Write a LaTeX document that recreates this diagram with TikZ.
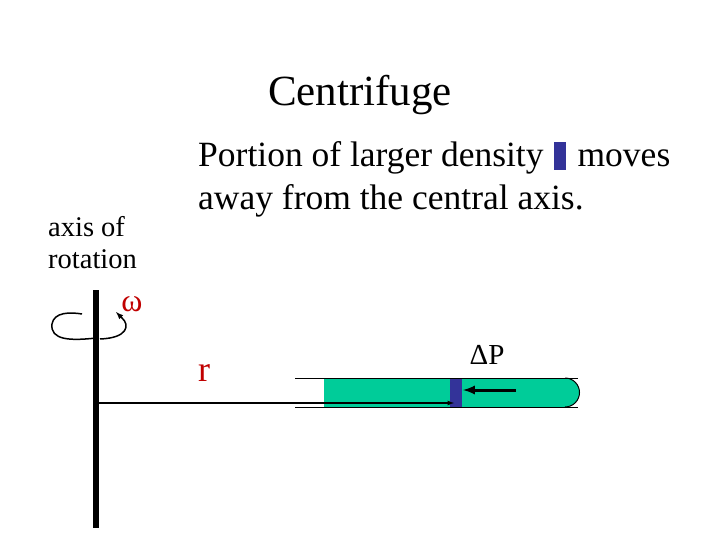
\documentclass[tikz,border=0pt]{standalone}
\usepackage{fontspec}
\setmainfont{Liberation Serif}
\begin{document}
\begin{tikzpicture}[x=1pt,y=-1pt,
 lbl/.style={inner sep=0pt,anchor=west}]
\definecolor{tg}{HTML}{00CC99}
\definecolor{db}{HTML}{333399}
\definecolor{rd}{HTML}{C00000}
\useasboundingbox (0,0) rectangle (720,540);
\node (title) at (360,95) {\fontsize{43}{48}\selectfont Centrifuge};
\node[lbl] (t1) at (198,158) {\fontsize{35.5}{40}\selectfont Portion of larger density\hspace{34pt}moves};
\node[lbl] (t2) at (198,201) {\fontsize{35.5}{40}\selectfont away from the central axis.};
\node[fill=db,minimum width=12pt,minimum height=28pt,inner sep=0pt] (sw) at (559.5,156) {};
\node[lbl] (ax1) at (48,227) {\fontsize{28.5}{30}\selectfont axis of};
\node[lbl] (ax2) at (48,259) {\fontsize{28.5}{30}\selectfont rotation};
\draw[line width=6pt] (96,290) -- (96,528);
\node[text=rd,inner sep=0pt] (om) at (132,304) {\fontsize{32}{34}\selectfont ω};
\draw[line width=1.5pt,-latex] (96,338) .. controls (70,341) and (50,340) .. (52,324) .. controls (54,312) and (70,312) .. (82,314)
  (100,339) .. controls (128,338) and (130,325) .. (122,318) -- (116,312);
\node[text=rd,inner sep=0pt] (r) at (204,373) {\fontsize{36}{40}\selectfont r};
\node[inner sep=0pt] (dp) at (487,355) {\fontsize{29}{32}\selectfont ΔP};
\fill[tg] (324,378) rectangle (565,407);
\fill[tg] (565,378) arc[start angle=-90,end angle=90,radius=14.5];
\draw[line width=1pt] (565,378) arc[start angle=-90,end angle=90,radius=14.5];
\fill[db] (450,378) rectangle (462,407);
\draw[line width=0.8pt] (295,378) -- (578,378);
\draw[line width=0.8pt] (295,407) -- (578,407);
\coordinate (rs) at (96,403);
\coordinate (re) at (454,403);
\draw[line width=1.2pt,-latex] (rs) -- (re);
\coordinate (fs) at (516,390);
\coordinate (fe) at (463,390);
\draw[line width=3pt,-latex] (fs) -- (fe);
\end{tikzpicture}
\end{document}
